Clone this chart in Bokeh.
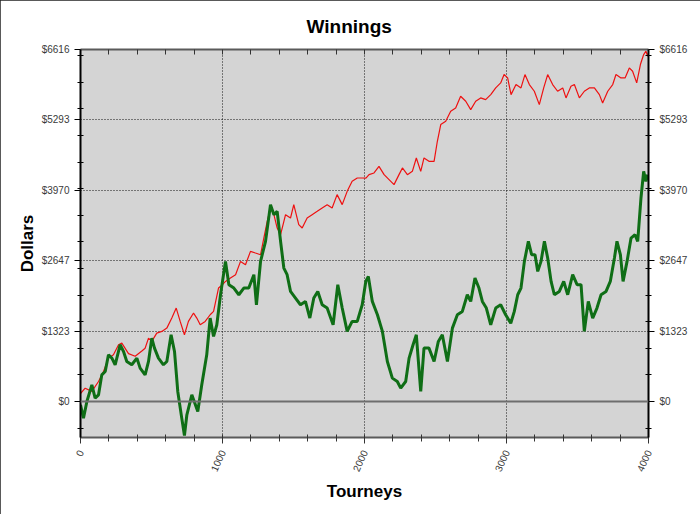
from bokeh.plotting import figure
from bokeh.models import Range1d, FixedTicker, LinearAxis, Span, CustomJSTickFormatter
from bokeh.embed import file_html
from bokeh.resources import INLINE

# ---- data ----
red_x = [0, 33, 80, 127, 162, 197, 232, 268, 291, 338, 385, 432, 455, 479, 502, 537, 573, 608, 643, 674,
         702, 732, 760, 796, 819, 843, 878, 913, 937, 972, 1000, 1021, 1056, 1092, 1127, 1162, 1197, 1232, 1268, 1291,
         1315, 1338, 1362, 1385, 1409, 1444, 1479, 1502, 1537, 1561, 1596, 1631, 1667, 1702, 1737, 1772, 1807, 1843, 1878, 1913,
         1949, 1984, 2010, 2032, 2067, 2102, 2138, 2173, 2208, 2243, 2267, 2302, 2337, 2365, 2396, 2419, 2454, 2490, 2513, 2537,
         2572, 2607, 2642, 2677, 2713, 2748, 2783, 2818, 2853, 2889, 2924, 2959, 2983, 3008, 3032, 3067, 3102, 3130, 3161, 3196,
         3231, 3262, 3290, 3325, 3360, 3396, 3419, 3454, 3478, 3513, 3548, 3583, 3619, 3654, 3677, 3713, 3748, 3771, 3806, 3835,
         3865, 3888, 3917, 3943, 3966, 3982, 3994, 4000]
red_y = [150, 250, 190, 376, 564, 815, 878, 1066, 1097, 900, 850, 950, 1000, 1191, 1129, 1285, 1317, 1379, 1568, 1756,
         1505, 1254, 1505, 1662, 1568, 1442, 1505, 1630, 1693, 2132, 2195, 2257, 2320, 2383, 2633, 2571, 2822, 2790, 2759, 3072,
         3386, 3637, 3511, 3260, 3135, 3511, 3449, 3700, 3323, 3260, 3449, 3511, 3574, 3637, 3700, 3637, 3888, 3700, 3950, 4138,
         4201, 4201, 4200, 4264, 4295, 4420, 4264, 4170, 4076, 4264, 4389, 4264, 4326, 4577, 4326, 4577, 4514, 4514, 4891, 5204,
         5267, 5455, 5518, 5737, 5643, 5486, 5643, 5706, 5674, 5768, 5894, 5988, 6145, 6082, 5768, 5957, 5894, 6145, 5957, 5831,
         5580, 5894, 6145, 5957, 5831, 5894, 5706, 5925, 5957, 5706, 5831, 5894, 5894, 5768, 5612, 5831, 5957, 6145, 6082, 6082,
         6270, 6207, 5988, 6333, 6521, 6584, 6490, 6560]

green_x = [0, 21, 45, 80, 103, 127, 150, 174, 197, 221, 244, 279, 303, 326, 361, 397, 420, 455, 479, 502,
           521, 549, 584, 608, 638, 662, 685, 713, 732, 749, 784, 826, 854, 889, 913, 937, 960, 986, 1021, 1045,
           1080, 1115, 1150, 1185, 1221, 1239, 1268, 1303, 1338, 1362, 1385, 1409, 1432, 1455, 1479, 1514, 1549, 1584, 1615, 1643,
           1671, 1702, 1737, 1779, 1812, 1843, 1878, 1913, 1949, 1984, 2009, 2027, 2055, 2091, 2126, 2161, 2196, 2231, 2255, 2290,
           2314, 2342, 2365, 2396, 2419, 2454, 2490, 2520, 2548, 2584, 2619, 2654, 2689, 2724, 2748, 2778, 2806, 2830, 2858, 2889,
           2924, 2959, 2994, 3030, 3055, 3079, 3102, 3126, 3154, 3177, 3201, 3220, 3243, 3267, 3290, 3314, 3337, 3372, 3403, 3431,
           3466, 3497, 3525, 3548, 3576, 3607, 3637, 3666, 3701, 3731, 3760, 3778, 3802, 3821, 3849, 3877, 3905, 3924, 3947, 3966,
           3982, 3994]
green_y = [-63, -313, 0, 313, 63, 125, 500, 564, 878, 815, 690, 1066, 940, 752, 690, 815, 627, 500, 752, 1191,
           1003, 815, 690, 752, 1254, 940, 188, -313, -640, -250, 125, -188, 313, 878, 1568, 1223, 1442, 2006, 2633, 2195,
           2132, 2006, 2132, 2132, 2383, 1818, 2633, 3010, 3700, 3511, 3574, 3010, 2508, 2383, 2069, 1944, 1818, 1881, 1568, 1944,
           2069, 1818, 1756, 1442, 2195, 1756, 1317, 1505, 1505, 1818, 2257, 2351, 1881, 1630, 1317, 752, 439, 376, 251, 376,
           815, 1066, 1254, 188, 1003, 1003, 752, 1129, 1254, 752, 1379, 1630, 1693, 2006, 1881, 2320, 2132, 1881, 1756, 1442,
           1756, 1818, 1630, 1470, 1693, 2006, 2132, 2633, 3010, 2759, 2759, 2445, 2633, 3010, 2696, 2257, 2006, 2069, 2257, 2006,
           2383, 2195, 2195, 1317, 1881, 1568, 1756, 2006, 2069, 2257, 2696, 3010, 2759, 2257, 2633, 3072, 3135, 3010, 3825, 4326,
           4138, 4264]

x_ticks = [0, 1000, 2000, 3000, 4000]
x_minor = [200, 400, 600, 800, 1200, 1400, 1600, 1800, 2200, 2400, 2600, 2800, 3200, 3400, 3600, 3800]
y_ticks = [0, 1323.2, 2646.4, 3969.6, 5292.8, 6616]
y_labels = ["$0", "$1323", "$2647", "$3970", "$5293", "$6616"]
y_minor = [-500, 500, 1000, 1500, 2000, 2500, 3000, 3500, 4000, 4500, 5000, 5500, 6000, 6500]

FONT = "Liberation Sans"

p = figure(frame_width=568, frame_height=388, output_backend="svg", toolbar_location=None,
           x_range=Range1d(0, 4000), y_range=Range1d(-677, 6616),
           x_axis_location=None, y_axis_location=None,
           min_border_left=80, min_border_right=52, min_border_top=48, min_border_bottom=78,
           background_fill_color="#d4d4d4", border_fill_color="white")
p.outline_line_color = None
p.styles = {"outline": "1px solid #222222", "outline-offset": "-1px"}

p.title.text = "Winnings"
p.title.align = "left"
p.title.offset = 226
p.title.standoff = 26
p.title.text_font = FONT
p.title.text_font_size = "19px"
p.title.text_font_style = "bold"
p.title.text_color = "black"

xt = FixedTicker(ticks=x_ticks, minor_ticks=x_minor)
yt = FixedTicker(ticks=y_ticks, minor_ticks=y_minor)
overrides = {v: l for v, l in zip(y_ticks, y_labels)}


def style_axis(ax, color, width):
    ax.axis_line_color = color
    ax.axis_line_width = width
    ax.major_tick_line_color = color
    ax.minor_tick_line_color = color
    ax.major_label_text_font = FONT
    ax.major_label_text_font_size = "10px"
    ax.major_label_text_color = "#3a3a3a"
    ax.axis_label_text_font = FONT
    ax.axis_label_text_font_size = "17px"
    ax.axis_label_text_font_style = "bold"
    ax.axis_label_text_color = "black"


left = LinearAxis(ticker=yt, axis_label="Dollars", major_label_overrides=overrides)
style_axis(left, "black", 2)
left.major_tick_out = 6
left.major_tick_in = 0
left.minor_tick_out = 3
left.minor_tick_in = 3
left.axis_label_standoff = 2
p.add_layout(left, "left")

right = LinearAxis(ticker=yt, major_label_overrides=overrides)
style_axis(right, "black", 2)
right.major_tick_out = 6
right.major_tick_in = 0
right.minor_tick_out = 3
right.minor_tick_in = 3
p.add_layout(right, "right")

bottom = LinearAxis(ticker=xt, axis_label="Tourneys", major_label_orientation=1.15)
style_axis(bottom, "#5a5a5a", 2)
bottom.major_tick_line_color = "#333333"
bottom.minor_tick_line_color = "#333333"
bottom.major_tick_out = 6
bottom.major_tick_in = 3
bottom.minor_tick_out = 4
bottom.minor_tick_in = 3
bottom.major_label_standoff = 7
p.add_layout(bottom, "below")

top = LinearAxis(ticker=xt, formatter=CustomJSTickFormatter(code="return ''"))
style_axis(top, "#5a5a5a", 2)
top.major_tick_line_color = "#333333"
top.minor_tick_line_color = "#333333"
top.major_tick_out = 0
top.major_tick_in = 5
top.minor_tick_out = 0
top.minor_tick_in = 5
top.major_label_standoff = 0
p.add_layout(top, "above")

p.xgrid.ticker = FixedTicker(ticks=x_ticks)
p.ygrid.ticker = FixedTicker(ticks=y_ticks)
for g in (p.xgrid, p.ygrid):
    g.grid_line_color = "black"
    g.grid_line_dash = "1 2"
    g.grid_line_width = 1
    g.grid_line_alpha = 0.9

p.add_layout(Span(location=0, dimension="width", line_color="#6e6e6e", line_width=2))

p.line(red_x, red_y, line_color="#ee1111", line_width=1.2)
p.line(green_x, green_y, line_color="#0f6e16", line_width=3)

open("out.html", "w").write(file_html(p, INLINE))
